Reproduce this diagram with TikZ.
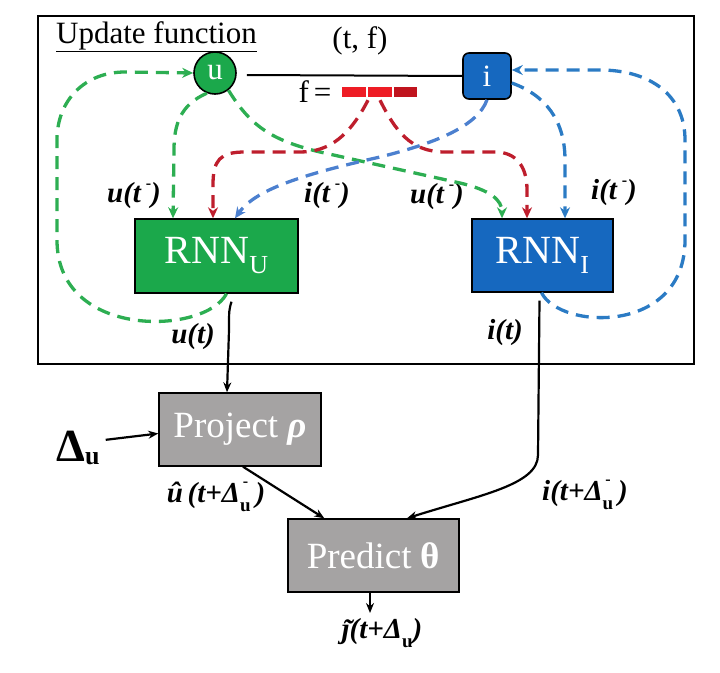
\documentclass[tikz,border=0pt]{standalone}
\usepackage{fontspec}
\setmainfont{Liberation Serif}
\usetikzlibrary{calc,arrows.meta}
\definecolor{gfill}{HTML}{1BA84B}
\definecolor{bfill}{HTML}{1668BF}
\definecolor{grayfill}{HTML}{A5A3A3}
\definecolor{gdash}{HTML}{2DAE52}
\definecolor{bdash}{HTML}{2B7BC4}
\definecolor{bdashl}{HTML}{4C80CF}
\definecolor{rdash}{HTML}{BE1E2D}
\definecolor{fred}{HTML}{EE1C25}
\definecolor{fdark}{HTML}{C0141E}
\newcommand{\tminus}{\raisebox{0.5em}{\fontsize{16}{16}\selectfont\bfseries\upshape -}}
\newcommand{\dsu}{\makebox[0pt][l]{\raisebox{0.55em}{\fontsize{16}{16}\selectfont\bfseries\upshape\,-}}\raisebox{-0.3em}{\fontsize{19}{19}\selectfont\bfseries\upshape u}}
\newcommand{\dsb}{\raisebox{-0.3em}{\fontsize{19}{19}\selectfont\bfseries\upshape u}}
\newcommand{\jtil}{\ooalign{ȷ\cr\hidewidth\kern0.12em\raisebox{-0.02em}{\char"02DC}\hidewidth\cr}}
\tikzset{
  dsh/.style={line width=3.3pt, dash pattern=on 13pt off 8pt},
  tip/.style={-{Stealth[length=11pt,width=10pt]}},
  ktip/.style={-{Stealth[length=10pt,width=8pt]}},
  rnnbox/.style={draw=black, line width=1.4pt, text=white, inner sep=0pt, font=\fontsize{40}{44}\selectfont},
  graybox/.style={draw=black, line width=1.4pt, fill=grayfill, text=white, inner sep=0pt, font=\fontsize{37}{40}\selectfont},
  lab/.style={font=\fontsize{29}{32}\selectfont\bfseries\itshape, inner sep=0pt},
  plain/.style={font=\fontsize{31}{34}\selectfont, inner sep=0pt},
  conn/.style={line width=2.2pt}
}
\begin{document}
\begin{tikzpicture}[x=1pt,y=-1pt]
\useasboundingbox (0,0) rectangle (720,672);
% outer frame
\draw[line width=2pt] (38,16) rectangle (694,364);
\node[plain, anchor=base west] (title) at (56,43) {\underline{Update function}};
\node[plain] (tf) at (360,41) {(t, f)};
% u and i
\node[circle, draw=black, line width=1.6pt, fill=gfill, text=white, minimum size=42pt, inner sep=0pt, font=\fontsize{31}{34}\selectfont] (u) at (215,73) {u};
\node[draw=black, line width=1.6pt, fill=bfill, text=white, rounded corners=6pt, minimum width=48pt, minimum height=46pt, inner sep=0pt, font=\fontsize{31}{34}\selectfont] (i) at (487,76) {i};
\draw[line width=2pt] ($(u.east)+(10,2)$) -- (i.west);
% f bar
\node[plain] (feq) at (315,92) {f\,=};
\node[fill=fred, minimum width=24pt, minimum height=10pt, inner sep=0pt] (f1) at (354,92) {};
\node[fill=fred, minimum width=24pt, minimum height=10pt, inner sep=0pt] (f2) at (380,92) {};
\node[fill=fdark, minimum width=23pt, minimum height=10pt, inner sep=0pt] (f3) at (405.5,92) {};
% RNN boxes
\node[rnnbox, fill=gfill, minimum width=163pt, minimum height=74pt] (rnnu) at (216.5,256) {RNN\raisebox{-0.25em}{\fontsize{26}{26}\selectfont U}};
\node[rnnbox, fill=bfill, minimum width=141pt, minimum height=73pt] (rnni) at (542.5,255.5) {RNN\raisebox{-0.25em}{\fontsize{26}{26}\selectfont I}};
% project / predict
\node[graybox, minimum width=162pt, minimum height=73pt] (proj) at (240,429.5) {Project \textbf{\textit{ρ}}};
\node[graybox, minimum width=171pt, minimum height=73pt] (pred) at (373.5,555.5) {Predict \textbf{θ}};
\node[inner sep=0pt, anchor=base west, font=\fontsize{46}{48}\selectfont\bfseries] (delta) at (56,461) {Δ\raisebox{-0.08em}{\fontsize{26}{26}\selectfont u}};
% labels
\node[lab] (l1) at (134,196) {u(t\,\tminus)};
\node[lab] (l2) at (327,196) {i(t\,\tminus)};
\node[lab] (l3) at (437,197) {u(t\,\tminus)};
\node[lab] (l4) at (614,193) {i(t\,\tminus)};
\node[lab] (l5) at (193,337) {u(t)};
\node[lab] (l6) at (505,333) {i(t)};
\node[lab] (l7) at (216,497) {û\,(t+Δ\dsu\,)};
\node[lab] (l8) at (585,495) {i(t+Δ\dsu\,)};
\node[lab] (l9) at (382,633) {\jtil(t+Δ\dsb)};
\coordinate (jt) at (370,613);
% green dashed
\draw[dsh, gdash, tip] ($(rnnu.south)+(10,0)$) .. controls (205,335) and (57,340) .. (57,240) -- (57,140) .. controls (57,100) and (85,72) .. (125,72) -- (u.west);
\draw[dsh, gdash, tip] (u.-112) .. controls (180,105) and (174,125) .. (174,150) -- ($(rnnu.north)+(-43.5,0)$);
\draw[dsh, gdash, tip] (u.-52) .. controls (250,125) and (270,140) .. (320,152) -- (460,183) .. controls (490,190) and (502,200) .. ($(rnni.north)+(-40.5,0)$);
% red dashed
\draw[dsh, rdash, tip] ($(f1.south)+(14,3)$) .. controls (350,135) and (330,152) .. (300,152) -- (245,152) .. controls (220,152) and (213,160) .. (213,185) -- ($(rnnu.north)+(-3.5,0)$);
\draw[dsh, rdash, tip] ($(f2.south)+(0,3)$) .. controls (395,130) and (410,152) .. (445,152) -- (495,152) .. controls (515,152) and (527,165) .. (527,190) -- ($(rnni.north)+(-15.5,0)$);
% blue dashed
\draw[dsh, bdashl, tip] (i.south) .. controls (478,125) and (440,142) .. (380,157) .. controls (300,175) and (255,190) .. ($(rnnu.north)+(18.5,0)$);
\draw[dsh, bdash, tip] ($(i.east)+(0,7)$) .. controls (545,95) and (565,120) .. (565,160) -- ($(rnni.north)+(22.5,0)$);
\draw[dsh, bdash, tip] ($(rnni.south)+(-1,0)$) .. controls (560,330) and (685,335) .. (685,240) -- (685,140) .. controls (685,95) and (650,70) .. (600,70) -- ($(i.east)+(0,-6)$);
% black connectors
\draw[conn, ktip] ($(rnnu.south)+(15,8)$) .. controls (229,310) .. (229,330) -- ($(proj.north)+(-13,0)$);
\draw[conn, ktip] ($(rnni.south)+(-3,8)$) -- (538,455) .. controls (538,485) and (480,495) .. ($(pred.north)+(33.5,0)$);
\draw[conn, ktip] ($(proj.south)+(3,0)$) -- ($(pred.north west)+(37,0)$);
\draw[conn, ktip] ($(pred.south)+(-3.5,0)$) -- (jt);
\draw[conn, ktip] ($(delta.east)+(6,-8)$) -- ($(proj.west)+(0,4)$);
\end{tikzpicture}
\end{document}
